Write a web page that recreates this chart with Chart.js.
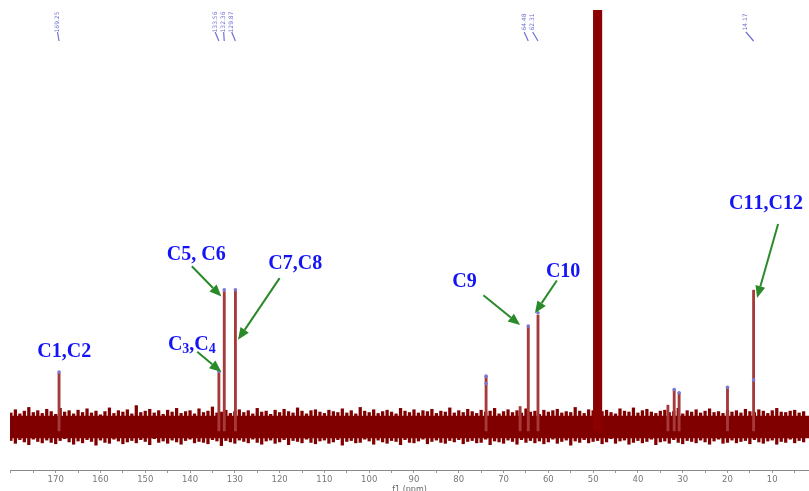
<!DOCTYPE html>
<html><head><meta charset="utf-8">
<script src="https://cdn.jsdelivr.net/npm/chart.js@4.4.0/dist/chart.umd.min.js"></script>
<style>html,body{margin:0;padding:0;background:#fff;overflow:hidden}canvas{display:block}</style>
</head><body>
<canvas id="c" width="809" height="491"></canvas>
<script>
// ---- axis ----
const ppmMin = 1.8, ppmMax = 180.2;
const axisTitle = 'f1 (ppm)';

// ---- baseline noise, one sample per ppm from 180 down to 3 ----
const noiseFirstPpm = 180;
const noiseHigh = [
12.4,13.1,12.2,12.8,13.6,12.5,12.9,12.3,13.2,12.7,
12.1,13.4,12.6,12.9,12.2,13.0,12.5,13.3,12.4,12.8,
12.0,12.7,13.5,12.3,12.9,12.6,13.1,12.2,14.0,12.5,
12.8,13.2,12.4,12.9,12.1,13.0,12.6,13.4,12.3,12.7,
12.9,12.2,13.3,12.5,12.8,13.7,12.4,12.6,13.0,12.3,
12.7,13.1,12.5,12.9,12.2,13.4,12.6,12.8,12.1,13.0,
12.5,13.2,12.7,12.4,13.5,12.8,12.2,12.9,13.1,12.6,
12.3,13.0,12.7,12.5,13.3,12.4,12.9,12.2,13.6,12.8,
12.5,13.1,12.3,12.7,13.0,12.6,12.2,13.4,12.8,12.5,
13.1,12.4,12.9,12.7,13.2,12.3,12.8,12.6,13.5,12.4,
12.9,12.5,13.2,12.7,12.3,13.0,12.6,12.8,13.4,12.2,
12.7,13.1,12.5,12.9,12.4,13.3,12.6,12.8,12.1,13.0,
12.6,12.9,13.2,12.4,12.7,12.5,13.6,12.8,12.3,13.1,
12.9,12.4,12.7,13.0,12.5,12.2,13.3,12.8,12.6,13.5,
12.4,12.9,13.2,12.6,12.3,12.8,13.0,12.5,12.7,13.4,
12.2,12.9,12.6,13.1,12.4,12.8,13.3,12.5,12.7,12.3,
13.0,12.6,12.9,12.4,13.2,12.7,12.5,13.1,12.8,12.3,
12.9,13.4,12.6,12.5,12.8,13.0,12.4,12.7];
const noiseLow = [
6.4,5.8,6.6,6.1,5.5,6.7,6.2,5.9,6.5,6.0,
5.7,6.4,6.8,6.1,5.6,6.3,5.9,6.6,6.2,5.4,
6.5,6.0,5.8,6.7,6.3,5.7,6.1,6.4,5.9,6.6,
6.2,5.5,6.8,6.0,6.3,5.8,6.5,6.1,5.6,6.4,
6.7,5.9,6.2,6.0,5.7,6.6,6.3,5.3,6.4,6.1,
5.8,6.5,6.2,5.9,6.7,6.0,5.6,6.3,6.5,5.8,
6.1,6.6,5.5,6.4,6.2,5.9,6.7,6.0,5.7,6.3,
6.5,5.8,6.1,6.6,5.4,6.2,6.4,5.9,6.0,6.7,
6.3,5.6,6.5,6.1,5.8,6.4,6.2,5.5,6.6,6.0,
5.9,6.3,6.7,5.7,6.2,6.5,6.0,5.8,6.4,6.1,
6.6,5.7,6.2,6.4,5.9,6.0,6.7,5.5,6.3,6.1,
5.8,6.5,6.2,5.6,6.6,6.0,6.4,5.9,6.3,5.7,
6.1,6.7,5.8,6.2,6.5,5.4,6.3,6.0,6.6,5.9,
6.2,6.4,5.7,6.1,6.8,5.8,6.3,6.5,5.6,6.0,
6.4,5.9,6.2,6.7,5.5,6.1,6.3,5.8,6.6,6.0,
5.7,6.4,6.2,5.9,6.5,6.1,5.6,6.3,6.7,5.8,
6.0,6.5,5.9,6.2,6.4,5.7,6.6,6.1,5.8,6.3,
6.5,5.6,6.2,6.0,6.7,5.9,6.4,6.1];
const noiseCoreLow = 6.9, noiseCoreHigh = 11.8;

// ---- peaks ----
const peakBase = 8.5;
const peakPpm = [169.25,133.56,132.36,129.87,73.9,66.3,64.48,62.31,49.7,49.35,49.0,48.65,48.3,33.3,31.9,30.8,20.0,14.17];
const peakTop = [21.1,21.2,38.8,39.0,20.4,13.8,31.2,33.7,130,130,130,130,130,14.1,17.5,16.8,18.0,39.1];

// ---- peak-pick markers ----
const markerPpm = [169.25,133.56,132.36,129.87,73.9,73.9,64.48,62.31,31.9,30.8,20.0,14.17];
const markerVal = [21.3,21.4,39.2,39.2,20.4,18.8,31.3,34.2,17.5,16.8,18.0,19.6];

// ---- top shift labels ----
const topLabelText = ['169.25','133.56','132.36','129.87','64.48','62.31','14.17'];
const topLabelPeak = [169.25,133.56,132.36,129.87,64.48,62.31,14.17];
const topLabelPos  = [169.6,134.4,132.5,130.7,65.4,63.5,15.9];

// ---- assignment annotations ----
const annoText = ['C1,C2','C5, C6','C_3,C_4','C7,C8','C9','C10','C11,C12'];
const annoPpm  = [168.1,138.6,139.6,116.5,78.7,56.7,11.4];
const annoVal  = [25.65,46.7,27.2,44.8,40.8,43.0,57.8];
const arrowFromPpm = [138.4,139.6,120.0,74.5,58.1,8.7];
const arrowFromVal = [25.7,44.3,41.7,38.0,41.2,53.5];
const arrowToPpm   = [133.0,133.0,129.3,66.3,63.0,13.4];
const arrowToVal   = [21.3,37.7,28.3,31.5,34.1,37.4];

// ---- build datasets ----
const noiseData = noiseHigh.map((h, i) => ({x: noiseFirstPpm - i, y: [noiseLow[i], h]}));
const peakData = peakPpm.map((p, i) => ({x: p, y: [peakBase, peakTop[i]]}));
const markerData = markerPpm.map((p, i) => ({x: p, y: markerVal[i]}));
const coreData = [{x: ppmMax, y: noiseCoreHigh}, {x: ppmMin, y: noiseCoreHigh}];

const annoPlugin = {
  id: 'anno',
  afterDatasetsDraw(chart) {
    const ctx = chart.ctx, xs = chart.scales.x, ys = chart.scales.y;
    const top = chart.chartArea.top;
    ctx.save();
    // top shift labels
    ctx.fillStyle = '#6f6fd2'; ctx.strokeStyle = '#6f6fd2'; ctx.lineWidth = 1.2;
    ctx.font = '6px "DejaVu Sans"';
    ctx.textAlign = 'center'; ctx.textBaseline = 'middle';
    topLabelText.forEach((t, i) => {
      const lx = xs.getPixelForValue(topLabelPos[i]);
      const px = xs.getPixelForValue(topLabelPeak[i]);
      ctx.save(); ctx.translate(lx, top + 12); ctx.rotate(-Math.PI / 2);
      ctx.fillText(t, 0, 0); ctx.restore();
      ctx.beginPath(); ctx.moveTo(lx, top + 22); ctx.lineTo(px, top + 31); ctx.stroke();
    });
    // arrows
    ctx.strokeStyle = '#2a8a2a'; ctx.fillStyle = '#2a8a2a'; ctx.lineWidth = 2;
    arrowFromPpm.forEach((p, i) => {
      const x1 = xs.getPixelForValue(p), y1 = ys.getPixelForValue(arrowFromVal[i]);
      const x2 = xs.getPixelForValue(arrowToPpm[i]), y2 = ys.getPixelForValue(arrowToVal[i]);
      const a = Math.atan2(y2 - y1, x2 - x1), hl = 12, hw = 5;
      const bx = x2 - hl * Math.cos(a), by = y2 - hl * Math.sin(a);
      ctx.beginPath(); ctx.moveTo(x1, y1); ctx.lineTo(bx, by); ctx.stroke();
      ctx.beginPath(); ctx.moveTo(x2, y2);
      ctx.lineTo(bx + hw * Math.sin(a), by - hw * Math.cos(a));
      ctx.lineTo(bx - hw * Math.sin(a), by + hw * Math.cos(a));
      ctx.closePath(); ctx.fill();
    });
    // annotation texts
    ctx.fillStyle = '#1414f5'; ctx.textBaseline = 'middle'; ctx.textAlign = 'left';
    const big = 'bold 20px "Liberation Serif"', small = 'bold 14px "Liberation Serif"';
    annoText.forEach((t, i) => {
      const cx = xs.getPixelForValue(annoPpm[i]), cy = ys.getPixelForValue(annoVal[i]);
      const segs = [];
      for (let k = 0; k < t.length; k++) {
        if (t[k] === '_') { segs.push({s: t[k + 1], sub: true}); k++; }
        else segs.push({s: t[k], sub: false});
      }
      let w = 0;
      segs.forEach(g => { ctx.font = g.sub ? small : big; g.w = ctx.measureText(g.s).width; w += g.w; });
      let x = cx - w / 2;
      segs.forEach(g => { ctx.font = g.sub ? small : big; ctx.fillText(g.s, x, g.sub ? cy + 5 : cy); x += g.w; });
    });
    ctx.restore();
  }
};

new Chart(document.getElementById('c'), {
  type: 'bar',
  data: {
    datasets: [
      {type: 'line', data: markerData, showLine: false, borderWidth: 0, pointRadius: 1.8, pointBackgroundColor: '#7878d8', pointBorderWidth: 0},
      {type: 'bar', data: peakData, backgroundColor: c => (peakTop[c.dataIndex] > 100 ? '#8b0000' : '#a63a3a'), barThickness: 2.2, grouped: false, borderWidth: 0},
      {type: 'bar', data: noiseData, backgroundColor: '#800000', barThickness: 2.6, grouped: false, borderWidth: 0},
      {type: 'line', data: coreData, borderWidth: 0, pointRadius: 0, backgroundColor: '#800000', fill: {value: noiseCoreLow}}
    ]
  },
  options: {
    responsive: false, animation: false, devicePixelRatio: 1,
    layout: {autoPadding: false, padding: {top: 10, left: 10, right: 0, bottom: 0}},
    plugins: {legend: {display: false}, tooltip: {enabled: false}},
    scales: {
      x: {
        type: 'linear', reverse: true, min: ppmMin, max: ppmMax, offset: false,
        afterFit: s => { s.height = 21; s.paddingLeft = 0; s.paddingRight = 0; },
        grid: {display: true, drawOnChartArea: false, drawTicks: true, tickLength: 3, color: '#999', offset: false},
        border: {display: true, color: '#8a8a8a', width: 1},
        ticks: {
          stepSize: 5, includeBounds: false, autoSkip: false, maxRotation: 0, padding: 2,
          color: '#777', font: {family: 'DejaVu Sans', size: 8.5},
          callback: v => (v % 10 === 0 && v >= 10 && v <= 170) ? String(v) : ''
        },
        title: {display: true, text: axisTitle, color: '#666', font: {family: 'DejaVu Sans', size: 8}, padding: {top: 0, bottom: -4}}
      },
      y: {display: false, min: 0, max: 100}
    }
  },
  plugins: [annoPlugin]
});
</script>
</body></html>
